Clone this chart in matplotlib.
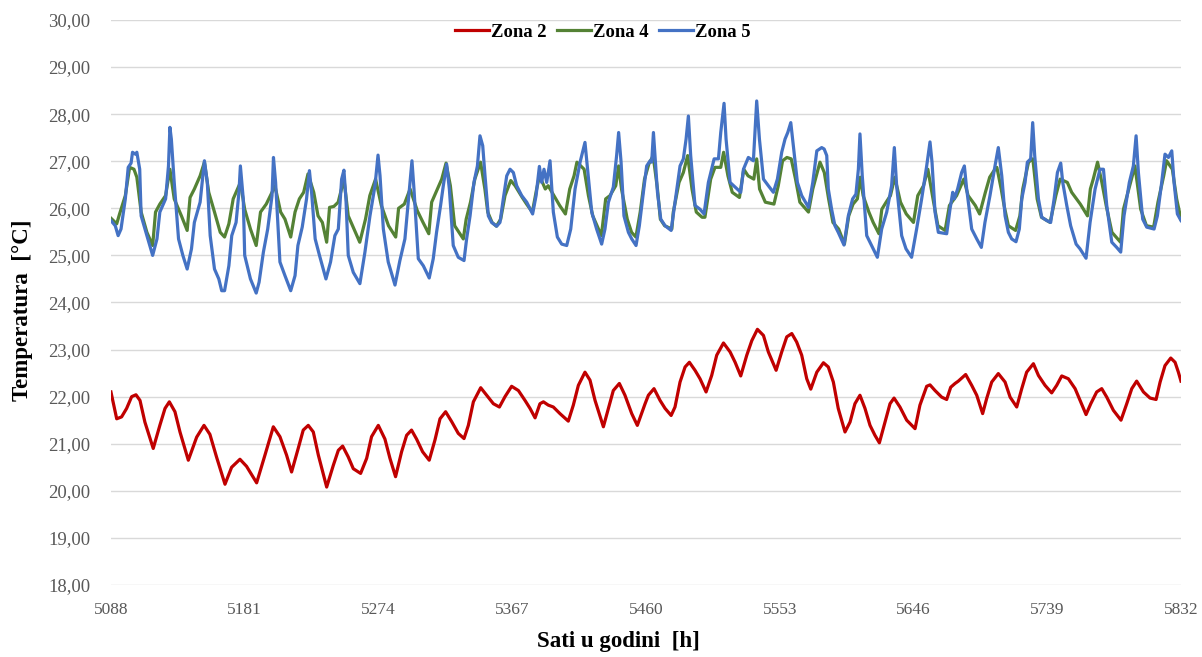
import matplotlib
matplotlib.use('Agg')
import matplotlib.pyplot as plt
from matplotlib.ticker import FuncFormatter

# Zona 2 (red)
z2_hours = [5088, 5092, 5095.4, 5098.9, 5102.4, 5105.4, 5108.2, 5111.6, 5117.4, 5122.1, 5125.6, 5128.6,
            5132.5, 5136, 5141.8, 5147.6, 5152.7, 5156.8, 5161.5, 5167.3, 5171.9, 5177.7, 5182.3, 5189.3,
            5195.1, 5200.9, 5205.5, 5210.1, 5213.6, 5218.2, 5221.7, 5225.2, 5228.7, 5232.2, 5238, 5242.6,
            5246.1, 5249.1, 5253, 5256.5, 5261.6, 5265.8, 5269.2, 5273.9, 5278.5, 5282, 5285.9, 5290.1,
            5293.6, 5297, 5300.5, 5304.7, 5309.3, 5313.3, 5316.8, 5320.7, 5324.9, 5329.5, 5333.5, 5336.5,
            5340, 5345.1, 5349.2, 5353.9, 5358.1, 5362, 5366.6, 5371.3, 5375.9, 5379.4, 5382.9, 5386.3,
            5388.7, 5392.1, 5395.6, 5400.2, 5406, 5409.5, 5413, 5417.6, 5421.1, 5424.6, 5430.4, 5433.9,
            5437.3, 5441.5, 5445.4, 5450.1, 5454, 5459.4, 5461.7, 5465.6, 5469.8, 5473.3, 5477.5, 5480.2,
            5483.7, 5487.2, 5490.2, 5494.1, 5497.6, 5501.8, 5505.7, 5509.2, 5513.9, 5518.5, 5522, 5525.9,
            5530.1, 5533.6, 5537.5, 5541.7, 5545.1, 5550.5, 5554.4, 5557.9, 5561.4, 5564.8, 5568.3, 5571.8,
            5574.6, 5578.8, 5583.4, 5586.8, 5590.3, 5593.7, 5598.4, 5601.9, 5605.3, 5608.8, 5612.3, 5615.8,
            5619.2, 5622.3, 5626.2, 5629.7, 5632.5, 5636.6, 5641.3, 5647.1, 5650.5, 5655.2, 5657.5, 5661,
            5665.6, 5669.1, 5671.9, 5674.9, 5677.2, 5682.3, 5686.5, 5690, 5694.1, 5696.9, 5700.4, 5705,
            5709.7, 5713.2, 5717.8, 5721.3, 5724.7, 5729.4, 5732.9, 5737.5, 5742.1, 5745.6, 5749.1, 5753.7,
            5758.4, 5762.3, 5766, 5769.3, 5773.4, 5776.9, 5780.4, 5785, 5790.3, 5794.3, 5797.8, 5801.2,
            5805.9, 5810.5, 5814.7, 5817.5, 5820.9, 5824.9, 5827.9, 5830.2, 5832]
z2_temp = [22.10, 21.53, 21.57, 21.75, 22.00, 22.04, 21.92, 21.46, 20.90, 21.40, 21.75, 21.89,
           21.68, 21.25, 20.65, 21.14, 21.39, 21.20, 20.71, 20.14, 20.50, 20.67, 20.52, 20.17,
           20.76, 21.36, 21.15, 20.76, 20.40, 20.90, 21.29, 21.39, 21.25, 20.76, 20.08, 20.54,
           20.86, 20.95, 20.72, 20.47, 20.37, 20.69, 21.15, 21.39, 21.10, 20.69, 20.30, 20.83,
           21.18, 21.29, 21.10, 20.83, 20.65, 21.08, 21.53, 21.68, 21.47, 21.22, 21.11, 21.39,
           21.89, 22.19, 22.03, 21.85, 21.78, 22.00, 22.22, 22.13, 21.92, 21.75, 21.55, 21.85,
           21.89, 21.82, 21.78, 21.64, 21.48, 21.82, 22.24, 22.52, 22.35, 21.92, 21.36, 21.75,
           22.13, 22.28, 22.03, 21.64, 21.39, 21.85, 22.03, 22.17, 21.92, 21.75, 21.60, 21.78,
           22.31, 22.63, 22.73, 22.56, 22.38, 22.10, 22.45, 22.88, 23.14, 22.95, 22.73, 22.44,
           22.88, 23.19, 23.43, 23.30, 22.95, 22.56, 22.95, 23.27, 23.34, 23.16, 22.88, 22.38,
           22.16, 22.52, 22.72, 22.63, 22.31, 21.75, 21.25, 21.46, 21.85, 22.03, 21.75, 21.39,
           21.18, 21.02, 21.46, 21.85, 21.97, 21.78, 21.50, 21.32, 21.82, 22.22, 22.25, 22.13,
           21.99, 21.94, 22.20, 22.28, 22.33, 22.47, 22.24, 22.03, 21.64, 21.96, 22.31, 22.49,
           22.31, 21.99, 21.78, 22.17, 22.52, 22.70, 22.45, 22.24, 22.08, 22.24, 22.44, 22.38,
           22.17, 21.89, 21.62, 21.85, 22.10, 22.17, 21.99, 21.71, 21.50, 21.85, 22.17, 22.33,
           22.10, 21.97, 21.94, 22.31, 22.66, 22.82, 22.73, 22.52, 22.33]

# Zona 4 (green)
z4_hours = [5088, 5092, 5094, 5098, 5101, 5104, 5106, 5109, 5113, 5117, 5119, 5122, 5126, 5129, 5132,
            5137, 5141, 5143, 5146, 5150, 5153, 5156, 5160, 5164, 5167, 5170, 5173, 5176, 5178, 5181,
            5185, 5189, 5192, 5196, 5200, 5202, 5206, 5209, 5213, 5216, 5219, 5222, 5225, 5229, 5232,
            5235, 5238, 5240, 5243, 5246, 5250, 5253, 5258, 5261, 5265, 5268, 5272, 5276, 5281, 5286,
            5288, 5292, 5296, 5301, 5305, 5309, 5311, 5314, 5318, 5321, 5324, 5327, 5333, 5335, 5338,
            5341, 5345, 5348, 5350, 5353, 5356, 5359, 5362, 5366, 5369, 5374, 5377, 5381, 5384, 5386,
            5390, 5392, 5396, 5400, 5404, 5407, 5410, 5412, 5417, 5420, 5423, 5427, 5429, 5432, 5435,
            5439, 5441, 5443, 5447, 5450, 5453, 5456, 5459, 5462, 5465, 5468, 5470, 5473, 5478, 5479,
            5483, 5486, 5489, 5492, 5495, 5499, 5501, 5505, 5508, 5512, 5514, 5517, 5520, 5525, 5528,
            5531, 5535, 5537, 5539, 5543, 5549, 5552, 5555, 5558, 5561, 5564, 5567, 5573, 5576, 5581,
            5584, 5587, 5590, 5594, 5598, 5601, 5604, 5607, 5609, 5611, 5615, 5618, 5622, 5624, 5627,
            5630, 5633, 5637, 5641, 5646, 5649, 5653, 5656, 5660, 5663, 5668, 5671, 5676, 5681, 5684,
            5689, 5692, 5696, 5699, 5702, 5704, 5707, 5709, 5712, 5717, 5720, 5722, 5726, 5729, 5732,
            5735, 5741, 5745, 5748, 5753, 5756, 5762, 5767, 5769, 5771, 5774, 5777, 5780, 5784, 5790,
            5792, 5797, 5800, 5804, 5808, 5813, 5816, 5820, 5822, 5826, 5829, 5832]
z4_temp = [25.79, 25.67, 25.88, 26.27, 26.87, 26.83, 26.66, 25.92, 25.49, 25.21, 25.92, 26.09, 26.27, 26.83, 26.20,
           25.84, 25.53, 26.23, 26.41, 26.69, 26.98, 26.34, 25.92, 25.49, 25.39, 25.67, 26.20, 26.41, 26.55, 25.98,
           25.56, 25.21, 25.92, 26.09, 26.34, 26.48, 25.92, 25.77, 25.39, 25.92, 26.20, 26.34, 26.73, 26.34, 25.84,
           25.70, 25.28, 26.02, 26.04, 26.13, 26.62, 25.84, 25.49, 25.28, 25.77, 26.27, 26.62, 26.06, 25.63, 25.39,
           26.00, 26.09, 26.41, 25.95, 25.70, 25.46, 26.13, 26.34, 26.62, 26.96, 26.48, 25.63, 25.35, 25.77, 26.13,
           26.62, 26.98, 26.41, 25.92, 25.70, 25.62, 25.77, 26.27, 26.59, 26.48, 26.23, 26.09, 25.92, 26.41, 26.69,
           26.41, 26.48, 26.27, 26.06, 25.88, 26.41, 26.69, 26.98, 26.83, 26.27, 25.84, 25.56, 25.42, 26.20, 26.27,
           26.48, 26.90, 26.41, 25.77, 25.49, 25.39, 25.92, 26.62, 26.94, 27.12, 26.41, 25.77, 25.63, 25.56, 25.92,
           26.55, 26.76, 27.12, 26.41, 25.92, 25.81, 25.81, 26.62, 26.87, 26.87, 27.19, 26.69, 26.34, 26.23, 26.83,
           26.69, 26.62, 27.05, 26.41, 26.13, 26.09, 26.48, 27.01, 27.08, 27.05, 26.62, 26.13, 25.92, 26.41, 26.98,
           26.76, 26.20, 25.70, 25.56, 25.24, 25.84, 26.09, 26.20, 26.66, 26.27, 25.92, 25.70, 25.46, 25.98, 26.13,
           26.27, 26.66, 26.13, 25.88, 25.70, 26.27, 26.48, 26.83, 26.13, 25.63, 25.53, 26.06, 26.27, 26.62, 26.27,
           26.06, 25.88, 26.34, 26.66, 26.80, 26.87, 26.41, 26.06, 25.63, 25.53, 25.84, 26.41, 26.98, 27.05, 26.20,
           25.81, 25.70, 26.27, 26.62, 26.55, 26.34, 26.09, 25.84, 26.41, 26.62, 26.98, 26.55, 26.06, 25.49, 25.28,
           25.98, 26.55, 26.90, 25.98, 25.63, 25.60, 26.13, 26.69, 27.01, 26.83, 26.20, 25.77]

# Zona 5 (blue)
z5_hours = [5088, 5091, 5093, 5095, 5098, 5100, 5102, 5103, 5105, 5106, 5108, 5109, 5113, 5115, 5117,
            5120, 5122, 5126, 5128, 5129, 5130, 5132, 5135, 5138, 5141, 5144, 5146, 5150, 5153, 5155,
            5157, 5160, 5163, 5165, 5167, 5170, 5172, 5175, 5177, 5178, 5180, 5181, 5185, 5189, 5191,
            5194, 5197, 5200, 5201, 5202.5, 5205.5, 5209, 5213, 5216, 5218, 5221, 5224, 5226, 5227.5, 5230,
            5233, 5237.5, 5240.7, 5243.7, 5246.1, 5248.4, 5250, 5251.4, 5253, 5256.5, 5261.1, 5264.6, 5268.1,
            5271.6, 5273.7, 5275.1, 5277.4, 5280.8, 5285.5, 5288.9, 5292.4, 5294.7, 5297.3, 5298.7, 5301.7,
            5305.2, 5309.3, 5312.1, 5314.4, 5317.2, 5319.1, 5321.4, 5323.3, 5326, 5329.5, 5333.5, 5335.3,
            5337.7, 5340.4, 5342.8, 5344.6, 5346.5, 5348.1, 5350.4, 5352.7, 5356.2, 5358.5, 5360.8, 5363.2,
            5365.5, 5367.8, 5370.1, 5373.6, 5377.1, 5381.2, 5383.6, 5385.9, 5387.5, 5389.1, 5391, 5393.3,
            5395.6, 5398.4, 5401.4, 5404.9, 5407.7, 5410.7, 5414.2, 5417.6, 5419.2, 5422.3, 5425.7, 5429.2,
            5431.5, 5433.9, 5437.3, 5439.6, 5441, 5442.7, 5444.7, 5447.8, 5450.1, 5453.1, 5455.4, 5458.2,
            5460.5, 5462.9, 5464, 5465.2, 5466.3, 5468, 5470.3, 5473.3, 5477.5, 5480.2, 5483.7, 5486,
            5487.9, 5489.5, 5491.1, 5494.1, 5497.6, 5500.4, 5503.4, 5507.4, 5510.4, 5512, 5514.3, 5515.7,
            5518.5, 5522, 5525.9, 5527.8, 5531.2, 5534.7, 5537, 5538.9, 5541.7, 5545.1, 5548.6, 5551.4,
            5554.4, 5556.7, 5558.6, 5560.7, 5562.5, 5565.3, 5568.3, 5573, 5576, 5578.8, 5582.2, 5583.9,
            5585.7, 5586.8, 5589.1, 5591.4, 5593.7, 5597.7, 5600.7, 5603.7, 5606, 5607.7, 5608.8, 5610.4,
            5613.5, 5616.9, 5620.9, 5623.9, 5627.4, 5630.8, 5632.7, 5634.3, 5637.8, 5640.8, 5644.7, 5648.2,
            5651.7, 5655.2, 5657.5, 5658.9, 5661, 5663.3, 5669.1, 5671.4, 5673.3, 5674.4, 5676.7, 5679.5,
            5681.4, 5683, 5686.5, 5690, 5693.2, 5695.7, 5699.2, 5702.7, 5705, 5707.4, 5709.7, 5712,
            5714.3, 5717.3, 5719.6, 5721.3, 5723.6, 5725.2, 5727.5, 5728.9, 5730.3, 5732.9, 5735.2, 5738.7,
            5741.4, 5743.8, 5746.1, 5748.4, 5749.8, 5752.6, 5755.3, 5759.1, 5761.8, 5766, 5768.8, 5772.3,
            5775.7, 5778.1, 5780.4, 5783.9, 5787.3, 5790.1, 5792.4, 5796.1, 5798.9, 5800.8, 5802.4, 5805.4,
            5808.2, 5813.3, 5815.6, 5818.6, 5820.9, 5823.3, 5825.6, 5827.2, 5829.5, 5832]
z5_temp = [25.74, 25.63, 25.42, 25.56, 26.20, 26.87, 26.96, 27.19, 27.15, 27.19, 26.83, 25.84, 25.42, 25.21, 25.00,
           25.35, 25.92, 26.20, 26.90, 27.72, 27.47, 26.55, 25.35, 25.00, 24.71, 25.14, 25.70, 26.13, 27.01, 26.55,
           25.42, 24.71, 24.50, 24.25, 24.25, 24.78, 25.42, 25.70, 26.34, 26.90, 26.20, 25.00, 24.50, 24.20, 24.43,
           25.07, 25.56, 26.27, 27.08, 26.55, 24.86, 24.57, 24.25, 24.57, 25.21, 25.60, 26.20, 26.80, 26.34, 25.35,
           25.00, 24.50, 24.86, 25.42, 25.56, 26.62, 26.81, 26.20, 25.00, 24.64, 24.40, 25.07, 25.84,
           26.48, 27.13, 26.69, 25.56, 24.86, 24.37, 24.89, 25.35, 26.13, 27.01, 26.41, 24.93,
           24.78, 24.52, 24.93, 25.49, 26.06, 26.48, 26.94, 26.41, 25.21, 24.96, 24.89, 25.35,
           25.84, 26.55, 26.90, 27.54, 27.33, 26.69, 25.84, 25.70, 25.62, 25.70, 26.20, 26.69,
           26.83, 26.76, 26.48, 26.27, 26.13, 25.88, 26.27, 26.89, 26.55, 26.83, 26.55, 27.01,
           25.92, 25.39, 25.24, 25.21, 25.56, 26.41, 26.98, 27.40, 26.90, 25.92, 25.56, 25.24,
           25.56, 26.13, 26.45, 27.12, 27.61, 26.98, 25.84, 25.49, 25.35, 25.21, 25.63, 26.34,
           26.90, 27.01, 26.98, 27.61, 27.12, 26.34, 25.77, 25.63, 25.53, 26.13, 26.90, 27.05,
           27.47, 27.96, 27.12, 26.06, 25.98, 25.88, 26.55, 27.05, 27.05, 27.61, 28.23, 27.47,
           26.55, 26.45, 26.34, 26.83, 27.08, 27.01, 28.28, 27.47, 26.62, 26.48, 26.34, 26.62,
           27.19, 27.47, 27.61, 27.82, 27.33, 26.55, 26.27, 26.02, 26.55, 27.22, 27.29, 27.26,
           27.12, 26.41, 25.98, 25.63, 25.49, 25.22, 25.84, 26.20, 26.30, 26.83, 27.58, 26.69,
           25.42, 25.21, 24.96, 25.56, 25.92, 26.48, 27.29, 26.48, 25.42, 25.14, 24.96, 25.56,
           26.20, 26.90, 27.41, 26.98, 25.92, 25.49, 25.46, 25.98, 26.34, 26.20, 26.41, 26.76,
           26.90, 26.41, 25.56, 25.35, 25.17, 25.70, 26.27, 26.90, 27.29, 26.69, 25.84, 25.49,
           25.35, 25.29, 25.56, 26.20, 26.55, 26.98, 27.05, 27.82, 27.12, 26.20, 25.81, 25.74,
           25.70, 26.20, 26.76, 26.96, 26.55, 26.06, 25.63, 25.24, 25.14, 24.94, 25.70, 26.41,
           26.83, 26.83, 26.06, 25.28, 25.17, 25.07, 25.84, 26.55, 26.90, 27.54, 26.76, 25.77,
           25.60, 25.56, 25.84, 26.55, 27.15, 27.08, 27.22, 26.55, 25.88, 25.74]

x_ticks = [5088, 5181, 5274, 5367, 5460, 5553, 5646, 5739, 5832]
y_ticks = [18, 19, 20, 21, 22, 23, 24, 25, 26, 27, 28, 29, 30]


def draw_plot():
    plt.rcParams['font.family'] = ['Liberation Serif', 'DejaVu Serif']

    fig = plt.figure(figsize=(12.02, 6.57), dpi=100)
    ax = fig.add_axes([0.0923, 0.1096, 0.8902, 0.86])

    ax.plot(z2_hours, z2_temp, color='#C00000', lw=2.3, label='Zona 2')
    ax.plot(z4_hours, z4_temp, color='#548235', lw=2.3, label='Zona 4')
    ax.plot(z5_hours, z5_temp, color='#4472C4', lw=2.3, label='Zona 5')

    ax.set_xlim(5088, 5832)
    ax.set_ylim(18, 30)
    ax.set_xticks(x_ticks)
    ax.set_yticks(y_ticks)
    ax.yaxis.set_major_formatter(FuncFormatter(lambda v, p: f"{v:.2f}".replace('.', ',')))
    ax.tick_params(axis='both', length=0, labelcolor='#595959')
    ax.tick_params(axis='y', pad=15, labelsize=13.5)
    ax.tick_params(axis='x', pad=12, labelsize=12.5)

    ax.grid(axis='y', color='#d9d9d9', lw=1)
    ax.set_axisbelow(True)
    for s in ax.spines.values():
        s.set_visible(False)

    fig.text(618 / 1202, 1 - 642 / 657, 'Sati u godini  [h]', ha='center', va='center',
             fontsize=16.5, fontweight='bold')
    fig.text(23 / 1202, 1 - 310 / 657, 'Temperatura  [°C]', ha='center', va='center',
             rotation=90, fontsize=16.5, fontweight='bold')

    fig.legend(loc='center', bbox_to_anchor=(603 / 1202, 1 - 32 / 657), ncol=3, frameon=False,
               prop={'weight': 'bold', 'size': 13.4}, handlelength=1.8, handletextpad=0.15,
               columnspacing=0.55)

    fig.savefig('out.png', dpi=100)


def main():
    draw_plot()


if __name__ == "__main__":
    main()
